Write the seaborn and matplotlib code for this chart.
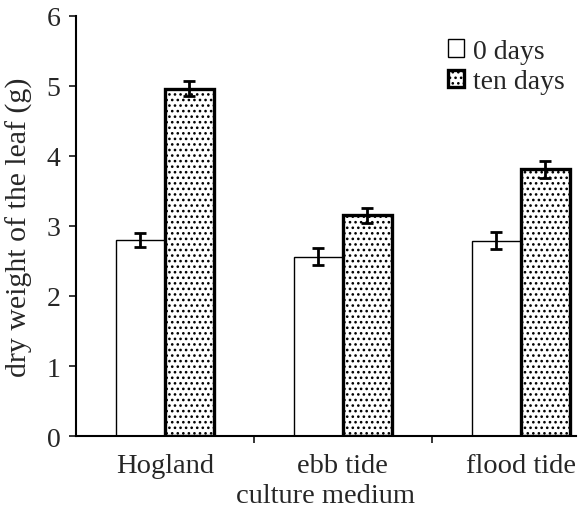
import matplotlib
matplotlib.use("Agg")
import matplotlib.pyplot as plt
import seaborn as sns
import pandas as pd
import numpy as np

categories = ["Hogland", "ebb tide", "flood tide"]
series = ["0 days", "ten days"]
values_0 = [2.80, 2.56, 2.79]
values_10 = [4.96, 3.15, 3.81]
err_0 = [0.10, 0.12, 0.12]
err_10 = [0.11, 0.11, 0.12]
yticks = [0, 1, 2, 3, 4, 5, 6]

df = pd.DataFrame({
    "medium": categories * 2,
    "time": [series[0]] * 3 + [series[1]] * 3,
    "weight": values_0 + values_10,
})

sns.set_style("ticks")
plt.rcParams["font.family"] = ["Liberation Serif", "DejaVu Serif"]
plt.rcParams["hatch.color"] = "#8f8f8f"
plt.rcParams["hatch.linewidth"] = 1.1

fig = plt.figure(figsize=(5.79, 5.10), dpi=100)
ax = fig.add_axes([0.131, 0.143, 0.864, 0.824])

sns.barplot(data=df, x="medium", y="weight", hue="time", order=categories,
            hue_order=series, palette=["white", "white"], width=0.55,
            errorbar=None, ax=ax, legend=False)

patches = [p for p in ax.patches]
bars0 = patches[:3]
bars10 = patches[3:6]
for p in bars0:
    p.set_edgecolor("black")
    p.set_linewidth(1.0)
for p in bars10:
    p.set_edgecolor("black")
    p.set_linewidth(2.4)
    p.set_hatch("...")

for bars, errs in ((bars0, err_0), (bars10, err_10)):
    xs = [b.get_x() + b.get_width() / 2 for b in bars]
    ys = [b.get_height() for b in bars]
    ax.errorbar(xs, ys, yerr=errs, fmt="none", ecolor="black",
                elinewidth=2.0, capsize=4.5, capthick=2.0, zorder=5)

ax.set_ylim(0, 6)
ax.set_xlim(-0.5, 2.31)
ax.set_yticks(yticks)
ax.set_yticklabels([str(t) for t in yticks])
ax.set_xticks(range(len(categories)))
ax.set_xticklabels(categories)
ax.set_xticks([0.5, 1.5], minor=True)
ax.tick_params(axis="x", which="major", length=0, pad=12, labelsize=20.5)
ax.tick_params(axis="x", which="minor", length=5, width=1.3, direction="out")
ax.tick_params(axis="y", length=5, width=1.3, direction="out", labelsize=20, pad=6)

for s in ["top", "right"]:
    ax.spines[s].set_visible(False)
for s in ["left", "bottom"]:
    ax.spines[s].set_linewidth(1.5)
    ax.spines[s].set_color("black")

ax.set_xlabel("culture medium", fontsize=20.5, labelpad=4)
ax.set_ylabel("dry weight of the leaf (g)", fontsize=21.5, labelpad=10)

leg = ax.legend(handles=[bars0[0], bars10[0]], labels=series, loc="upper right",
                bbox_to_anchor=(1.01, 0.985), frameon=False, fontsize=20,
                handlelength=0.6, handleheight=0.6, handletextpad=0.3,
                labelspacing=0.2, borderaxespad=0.2)

fig.savefig("out.png", dpi=100)
